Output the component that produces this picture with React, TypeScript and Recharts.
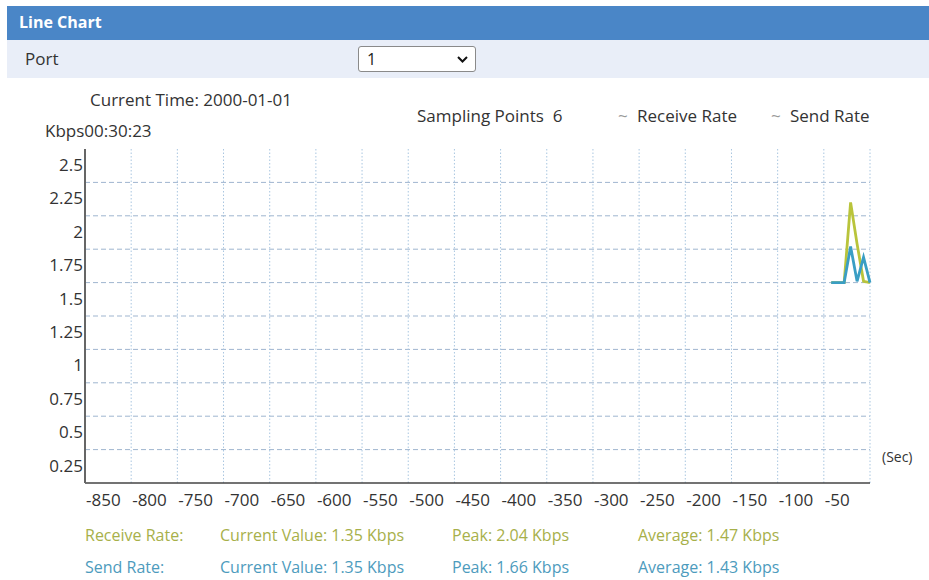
import { CartesianGrid, Line, LineChart, XAxis, YAxis } from "recharts"

const seconds = [-42, -28, -21, -14, -7, 0]
const receiveRate = [1.5, 1.5, 2.1, 1.79, 1.51, 1.5]
const sendRate = [1.5, 1.5, 1.77, 1.51, 1.69, 1.5]

const xTicks = [-850, -800, -750, -700, -650, -600, -550, -500, -450, -400, -350, -300, -250, -200, -150, -100, -50]
const yTicks = [0.25, 0.5, 0.75, 1, 1.25, 1.5, 1.75, 2, 2.25, 2.5]
const gridY = [0.25, 0.5, 0.75, 1, 1.25, 1.5, 1.75, 2, 2.25]
const gridX = [-800, -750, -700, -650, -600, -550, -500, -450, -400, -350, -300, -250, -200, -150, -100, -50, 0]

const receiveStats = ["Receive Rate:", "Current Value: 1.35 Kbps", "Peak: 2.04 Kbps", "Average: 1.47 Kbps"]
const sendStats = ["Send Rate:", "Current Value: 1.35 Kbps", "Peak: 1.66 Kbps", "Average: 1.43 Kbps"]

const data = seconds.map((t, i) => ({ t, receive: receiveRate[i], send: sendRate[i] }))

const FONT = "'Open Sans', 'Noto Sans', sans-serif"
const RECEIVE = "#b9c43b"
const SEND = "#3a9ec4"
const RECEIVE_TEXT = "#a7b04a"
const SEND_TEXT = "#4d9bbd"
const statCols = [85, 220, 452, 638]

function XTick({ x, y, payload }: any) {
  return (
    <text x={x + 1} y={y + 23} textAnchor="start" fontSize={17} fill="#333" fontFamily={FONT}>
      {payload.value}
    </text>
  )
}

function YTick({ x, y, payload }: any) {
  return (
    <text x={x} y={y + 22} textAnchor="end" fontSize={17} fill="#333" fontFamily={FONT}>
      {payload.value}
    </text>
  )
}

function Txt({ left, center, size = 17, color = "#333", bold = false, children }: any) {
  return (
    <div
      style={{
        position: "absolute",
        left,
        top: center - 12,
        height: 24,
        lineHeight: "24px",
        fontSize: size,
        color,
        fontWeight: bold ? 700 : 400,
        whiteSpace: "pre",
      }}
    >
      {children}
    </div>
  )
}

export default function App() {
  return (
    <div
      style={{
        position: "absolute",
        left: 0,
        top: 0,
        width: 929,
        height: 580,
        background: "#fff",
        fontFamily: FONT,
        overflow: "hidden",
      }}
    >
      <div style={{ position: "absolute", left: 7, top: 6, width: 922, height: 34, background: "#4a86c7" }} />
      <div style={{ position: "absolute", left: 7, top: 40, width: 922, height: 38, background: "#e9eef8" }} />
      <Txt left={19} center={22} size={16} color="#fff" bold>
        Line Chart
      </Txt>
      <Txt left={25} center={59}>Port</Txt>
      <div
        style={{
          position: "absolute",
          left: 358,
          top: 46,
          width: 116,
          height: 24,
          border: "1px solid #8a8a8a",
          borderRadius: 3,
          background: "#fff",
        }}
      >
        <span style={{ position: "absolute", left: 8, top: 0, lineHeight: "24px", fontSize: 16, color: "#222" }}>1</span>
        <svg style={{ position: "absolute", left: 98, top: 9 }} width={11} height={7}>
          <polyline points="1,1 5.5,5.5 10,1" fill="none" stroke="#111" strokeWidth={2} />
        </svg>
      </div>

      <Txt left={90} center={100}>Current Time: 2000-01-01</Txt>
      <Txt left={45} center={131}>Kbps00:30:23</Txt>
      <Txt left={417} center={116}>Sampling Points  6</Txt>
      <Txt left={618} center={116} color="#999">~</Txt>
      <Txt left={637} center={116}>Receive Rate</Txt>
      <Txt left={771} center={116} color="#999">~</Txt>
      <Txt left={790} center={116}>Send Rate</Txt>
      <Txt left={882} center={457} size={14}>(Sec)</Txt>

      <div style={{ position: "absolute", left: 0, top: 0 }}>
        <LineChart width={929} height={520} data={data} margin={{ top: 149, right: 59, left: 40, bottom: 7 }}>
          <CartesianGrid
            vertical={false}
            horizontalValues={gridY}
            stroke="#9fb5cf"
            strokeDasharray="5 3"
          />
          <CartesianGrid
            horizontal={false}
            verticalValues={gridX}
            stroke="#a9c6e0"
            strokeDasharray="1.5 2"
          />
          <XAxis
            dataKey="t"
            type="number"
            domain={[-850, 0]}
            ticks={xTicks}
            interval={0}
            height={30}
            tickLine={false}
            tickSize={0}
            tickMargin={0}
            stroke="#444"
            strokeWidth={1.5}
            tick={<XTick />}
          />
          <YAxis
            type="number"
            domain={[0, 2.5]}
            ticks={yTicks}
            interval={0}
            width={45}
            tickLine={false}
            tickSize={0}
            tickMargin={2}
            stroke="#666"
            strokeWidth={2}
            tick={<YTick />}
          />
          <Line
            type="linear"
            dataKey="receive"
            stroke={RECEIVE}
            strokeWidth={2.8}
            dot={false}
            isAnimationActive={false}
          />
          <Line
            type="linear"
            dataKey="send"
            stroke={SEND}
            strokeWidth={2.8}
            dot={false}
            isAnimationActive={false}
          />
        </LineChart>
      </div>

      {receiveStats.map((s, i) => (
        <Txt key={"r" + i} left={statCols[i]} center={535} size={16} color={RECEIVE_TEXT}>
          {s}
        </Txt>
      ))}
      {sendStats.map((s, i) => (
        <Txt key={"s" + i} left={statCols[i]} center={567} size={16} color={SEND_TEXT}>
          {s}
        </Txt>
      ))}
    </div>
  )
}
